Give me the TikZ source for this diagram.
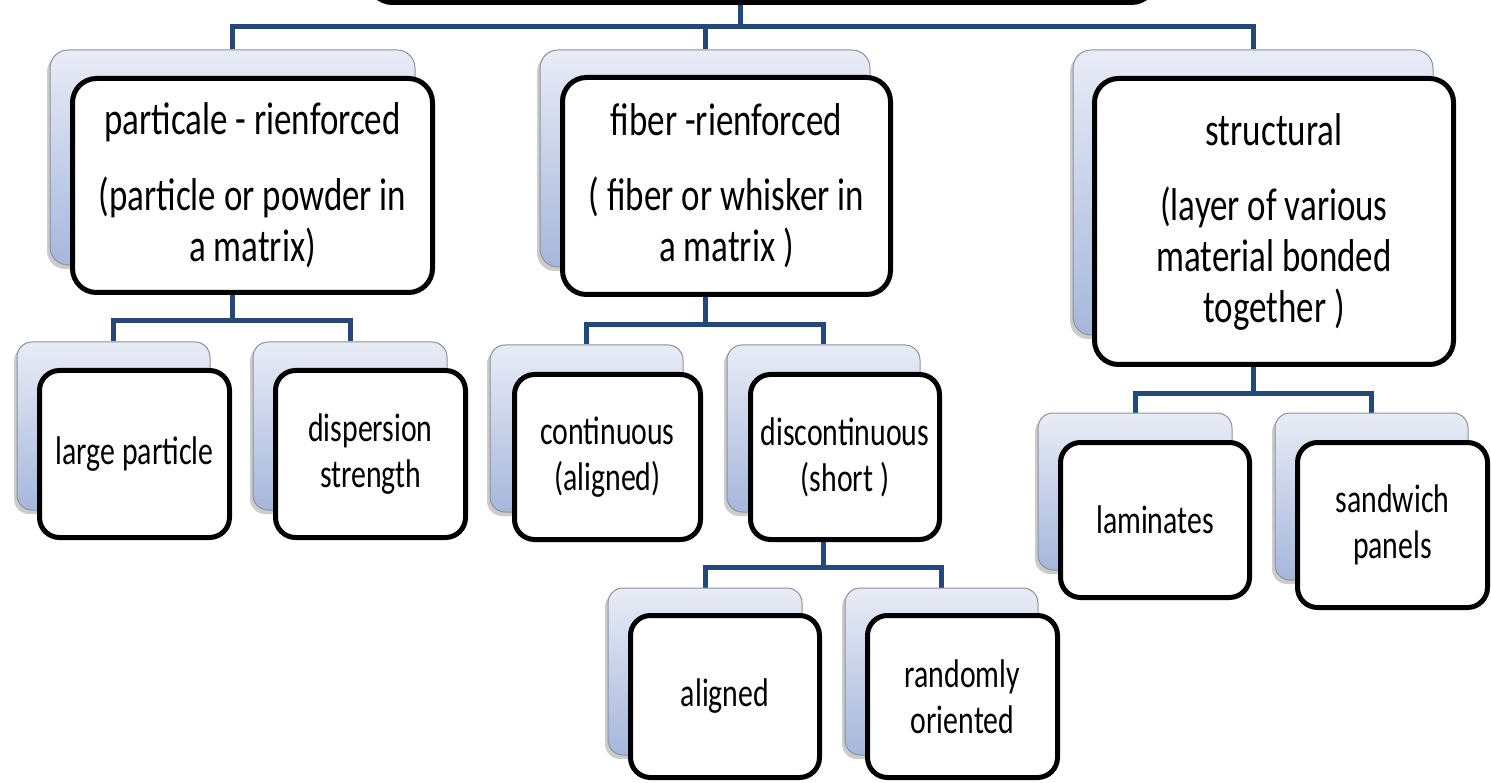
\documentclass[tikz,border=0pt]{standalone}
\usepackage{fontspec}
\setmainfont{Carlito}
\newfontfamily\bigfont[FakeStretch=0.76]{Carlito}
\newfontfamily\smallfont[FakeStretch=0.745]{Carlito}
\usetikzlibrary{shadows,backgrounds}
\definecolor{connblue}{RGB}{36,72,122}
\definecolor{shtop}{RGB}{232,236,246}
\definecolor{shbot}{RGB}{165,183,220}
\definecolor{shedge}{RGB}{140,145,155}
\begin{document}
\begin{tikzpicture}[x=1pt,y=-1pt,
 conn/.style={draw=connblue,line width=5pt},
 backbox/.style={draw=shedge,line width=1pt,top color=shtop,bottom color=shbot,rounded corners=18pt,
   drop shadow={shadow xshift=-3pt,shadow yshift=-4pt,opacity=0.2,fill=black}},
 frontbox/.style={draw=black,line width=5pt,fill=white,rounded corners=24pt,align=center,inner sep=0pt},
 bigtext/.style={font=\bigfont\fontsize{46}{51}\selectfont},
 smalltext/.style={font=\smallfont\fontsize{40}{46}\selectfont},
 lowback/.style={backbox,rounded corners=15pt},
 lowfront/.style={frontbox,rounded corners=20pt,smalltext},
]
\useasboundingbox (0,0) rectangle (1491,783);

% top (cropped) box
\node[frontbox, minimum width=787pt, minimum height=100pt] (top) at (762,-47.5) {};

% level 1
\node[backbox, minimum width=365pt, minimum height=215pt] (ps) at (232.5,157.5) {};
\node[frontbox, bigtext, minimum width=360pt, minimum height=214pt] (pm) at (252.5,185.5)
  {particale - rienforced\\[25pt](particle or powder in\\a matrix)};
\node[backbox, minimum width=330pt, minimum height=217pt] (fs) at (705,158.5) {};
\node[frontbox, bigtext, minimum width=328pt, minimum height=217pt] (fm) at (726.5,186)
  {fiber -rienforced\\[24pt]( fiber or whisker in\\a matrix )};
\node[backbox, minimum width=360pt, minimum height=285pt] (ss) at (1253,192.5) {};
\node[frontbox, bigtext, minimum width=359pt, minimum height=286pt] (sm) at (1274,221.5)
  {structural\\[24pt](layer of various\\material bonded\\together )};

% level 2
\node[lowback, minimum width=193pt, minimum height=168pt] (lps) at (113.5,426) {};
\node[lowfront, minimum width=190pt, minimum height=167pt] (lpm) at (134.5,454) {large particle};
\node[lowback, minimum width=194pt, minimum height=168pt] (dss) at (350,426) {};
\node[lowfront, minimum width=190pt, minimum height=167pt] (dsm) at (370.5,454) {dispersion\\strength};
\node[lowback, minimum width=193pt, minimum height=167pt] (cs) at (586.5,428.5) {};
\node[lowfront, minimum width=186pt, minimum height=165pt] (cm) at (607.5,457) {continuous\\(aligned)};
\node[lowback, minimum width=193pt, minimum height=167pt] (ds) at (823.5,428.5) {};
\node[lowfront, minimum width=189pt, minimum height=165pt] (dm) at (845,457) {discontinuous\\(short )};
\node[lowback, minimum width=194pt, minimum height=157pt] (ls) at (1135,491.5) {};
\node[lowfront, minimum width=189pt, minimum height=155pt] (lm) at (1155,520) {laminates};
\node[lowback, minimum width=193pt, minimum height=167pt] (sws) at (1371.5,496.5) {};
\node[lowfront, minimum width=190pt, minimum height=165pt] (swm) at (1392.5,525) {sandwich\\panels};

% level 3
\node[lowback, minimum width=194pt, minimum height=167pt] (as) at (705,671.5) {};
\node[lowfront, minimum width=189pt, minimum height=162pt] (am) at (725,696.5) {aligned};
\node[lowback, minimum width=193pt, minimum height=167pt] (rs) at (941.5,671.5) {};
\node[lowfront, minimum width=190pt, minimum height=162pt] (rm) at (962.5,696.5) {randomly\\oriented};

% connectors
\coordinate (topjoin) at (740,2.5);
\coordinate (bus0) at (740,27);
\begin{scope}[on background layer]
\draw[conn] (topjoin) -- (bus0);
\draw[conn] (bus0) -| (ps.north);
\draw[conn] (bus0) -| (fs.north);
\draw[conn] (bus0) -| (ss.north);

\draw[conn] (pm.south -| ps.north) -- ++(0,25.5) coordinate (pbus);
\draw[conn] (pbus) -| (lps.north);
\draw[conn] (pbus) -| (dss.north);

\draw[conn] (fm.south -| fs.north) -- ++(0,27.5) coordinate (fbus);
\draw[conn] (fbus) -| (cs.north);
\draw[conn] (fbus) -| (ds.north);

\draw[conn] (sm.south -| ss.north) -- ++(0,27) coordinate (sbus);
\draw[conn] (sbus) -| (ls.north);
\draw[conn] (sbus) -| (sws.north);

\draw[conn] (dm.south -| ds.north) -- ++(0,25) coordinate (dbus);
\draw[conn] (dbus) -| (as.north);
\draw[conn] (dbus) -| (rs.north);
\end{scope}
\end{tikzpicture}
\end{document}
